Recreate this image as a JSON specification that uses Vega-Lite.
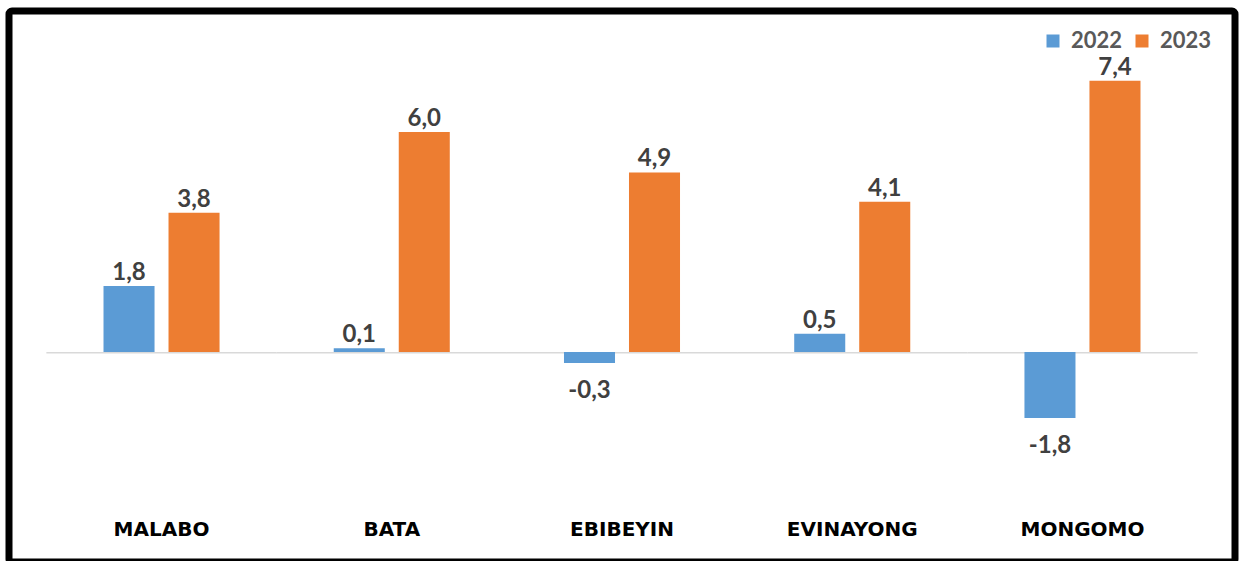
{
  "$schema": "https://vega.github.io/schema/vega-lite/v6.json",
  "width": 1226,
  "height": 551,
  "autosize": "none",
  "padding": {"left": 9, "top": 11, "right": 5, "bottom": -1},
  "background": "white",
  "config": {
    "view": {"stroke": "black", "strokeWidth": 7, "cornerRadius": 3}
  },
  "data": {
    "values": [
      {"city": "MALABO", "year": "2022", "value": 1.8},
      {"city": "MALABO", "year": "2023", "value": 3.8},
      {"city": "BATA", "year": "2022", "value": 0.1},
      {"city": "BATA", "year": "2023", "value": 6.0},
      {"city": "EBIBEYIN", "year": "2022", "value": -0.3},
      {"city": "EBIBEYIN", "year": "2023", "value": 4.9},
      {"city": "EVINAYONG", "year": "2022", "value": 0.5},
      {"city": "EVINAYONG", "year": "2023", "value": 4.1},
      {"city": "MONGOMO", "year": "2022", "value": -1.8},
      {"city": "MONGOMO", "year": "2023", "value": 7.4}
    ]
  },
  "transform": [
    {"calculate": "replace(replace(format(datum.value, '.1f'), '.', ','), '\u2212', '-')", "as": "label"}
  ],
  "encoding": {
    "x": {
      "field": "city",
      "type": "nominal",
      "sort": null,
      "scale": {"paddingInner": 0.496, "paddingOuter": 0.4105},
      "axis": {
        "title": null,
        "domain": false,
        "ticks": false,
        "labelPadding": -27,
        "labelBaseline": "alphabetic",
        "labelFont": "DejaVu Sans",
        "labelFontWeight": "bold",
        "labelFontSize": 20,
        "labelColor": "#000000",
        "labelAngle": 0
      }
    }
  },
  "layer": [
    {
      "transform": [{"filter": "datum.year == '2022'"}],
      "mark": {"type": "bar", "color": "#d9d9d9", "width": {"band": 1.985}},
      "encoding": {
        "y": {"datum": 0, "type": "quantitative", "scale": {"domain": [-5.73, 9.304], "nice": false, "zero": false}, "axis": null},
        "y2": {"datum": -0.04}
      }
    },
    {
      "mark": {"type": "bar"},
      "encoding": {
        "xOffset": {"field": "year", "type": "nominal", "scale": {"paddingInner": 0.215, "paddingOuter": 0}},
        "y": {
          "field": "value",
          "type": "quantitative",
          "scale": {"domain": [-5.73, 9.304], "nice": false, "zero": false},
          "axis": null
        },
        "color": {
          "field": "year",
          "type": "nominal",
          "scale": {"domain": ["2022", "2023"], "range": ["#5B9BD5", "#ED7D31"]},
          "legend": {
            "title": null,
            "orient": "none",
            "direction": "horizontal",
            "legendX": 1033,
            "legendY": 19,
            "symbolType": "square",
            "symbolSize": 169,
            "symbolStrokeWidth": 0,
            "labelFont": "Lato",
            "labelFontSize": 22,
            "labelFontWeight": "bold",
            "labelColor": "#595959",
            "labelOffset": 7,
            "columnPadding": 8
          }
        }
      }
    },
    {
      "transform": [{"filter": "datum.value >= 0"}],
      "mark": {"type": "text", "font": "Lato", "fontSize": 24, "fontWeight": "bold", "color": "#404040", "baseline": "alphabetic", "dy": -6},
      "encoding": {
        "xOffset": {"field": "year", "type": "nominal", "scale": {"paddingInner": 0.215, "paddingOuter": 0}},
        "y": {"field": "value", "type": "quantitative"},
        "text": {"field": "label", "type": "nominal"}
      }
    },
    {
      "transform": [{"filter": "datum.value < 0"}],
      "mark": {"type": "text", "font": "Lato", "fontSize": 24, "fontWeight": "bold", "color": "#404040", "baseline": "alphabetic", "dy": 35},
      "encoding": {
        "xOffset": {"field": "year", "type": "nominal", "scale": {"paddingInner": 0.215, "paddingOuter": 0}},
        "y": {"field": "value", "type": "quantitative"},
        "text": {"field": "label", "type": "nominal"}
      }
    }
  ]
}
